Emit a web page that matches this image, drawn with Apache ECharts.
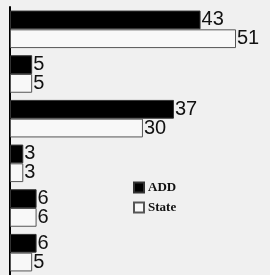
<!DOCTYPE html>
<html>
<head>
<meta charset="utf-8">
<script src="https://cdn.jsdelivr.net/npm/echarts@6/dist/echarts.min.js"></script>
<style>
  html, body { margin: 0; padding: 0; background: #f0f0f0; }
  #chart { width: 270px; height: 275px; }
</style>
</head>
<body>
<div id="chart"></div>
<script>
// categories have no visible labels in the picture
const categories = ['A', 'B', 'C', 'D', 'E', 'F']
const addValues = [43, 5, 37, 3, 6, 6]
const stateValues = [51, 5, 30, 3, 6, 5]

const chart = echarts.init(document.getElementById('chart'))

const label = {
  show: true,
  position: 'right',
  distance: 1,
  color: '#111',
  fontFamily: 'Liberation Sans, Arial, sans-serif',
  fontSize: 20,
}

chart.setOption({
  animation: false,
  backgroundColor: '#f0f0f0',
  grid: {
    left: 10,
    top: 7,
    width: 226,
    height: 273,
  },
  legend: {
    orient: 'vertical',
    left: 128,
    top: 176,
    itemWidth: 10,
    itemHeight: 10,
    itemGap: 7,
    icon: 'rect',
    textStyle: {
      fontFamily: 'Liberation Serif, serif',
      fontWeight: 'bold',
      fontSize: 13,
      color: '#111',
      padding: [0, 0, 0, -1],
    },
    data: ['ADD', 'State'],
  },
  xAxis: {
    type: 'value',
    min: 0,
    max: 51,
    show: false,
  },
  yAxis: {
    type: 'category',
    data: categories,
    inverse: true,
    axisLine: { show: true, lineStyle: { color: '#000', width: 2 } },
    axisTick: { show: false },
    axisLabel: { show: false },
  },
  series: [
    {
      name: 'ADD',
      type: 'bar',
      data: addValues,
      barGap: '0%',
      barCategoryGap: '16%',
      itemStyle: { color: '#000', borderColor: '#333', borderWidth: 1 },
      label: label,
    },
    {
      name: 'State',
      type: 'bar',
      data: stateValues,
      barGap: '0%',
      barCategoryGap: '16%',
      itemStyle: { color: '#f8f8f8', borderColor: '#555', borderWidth: 1 },
      label: label,
    },
  ],
})
</script>
</body>
</html>
